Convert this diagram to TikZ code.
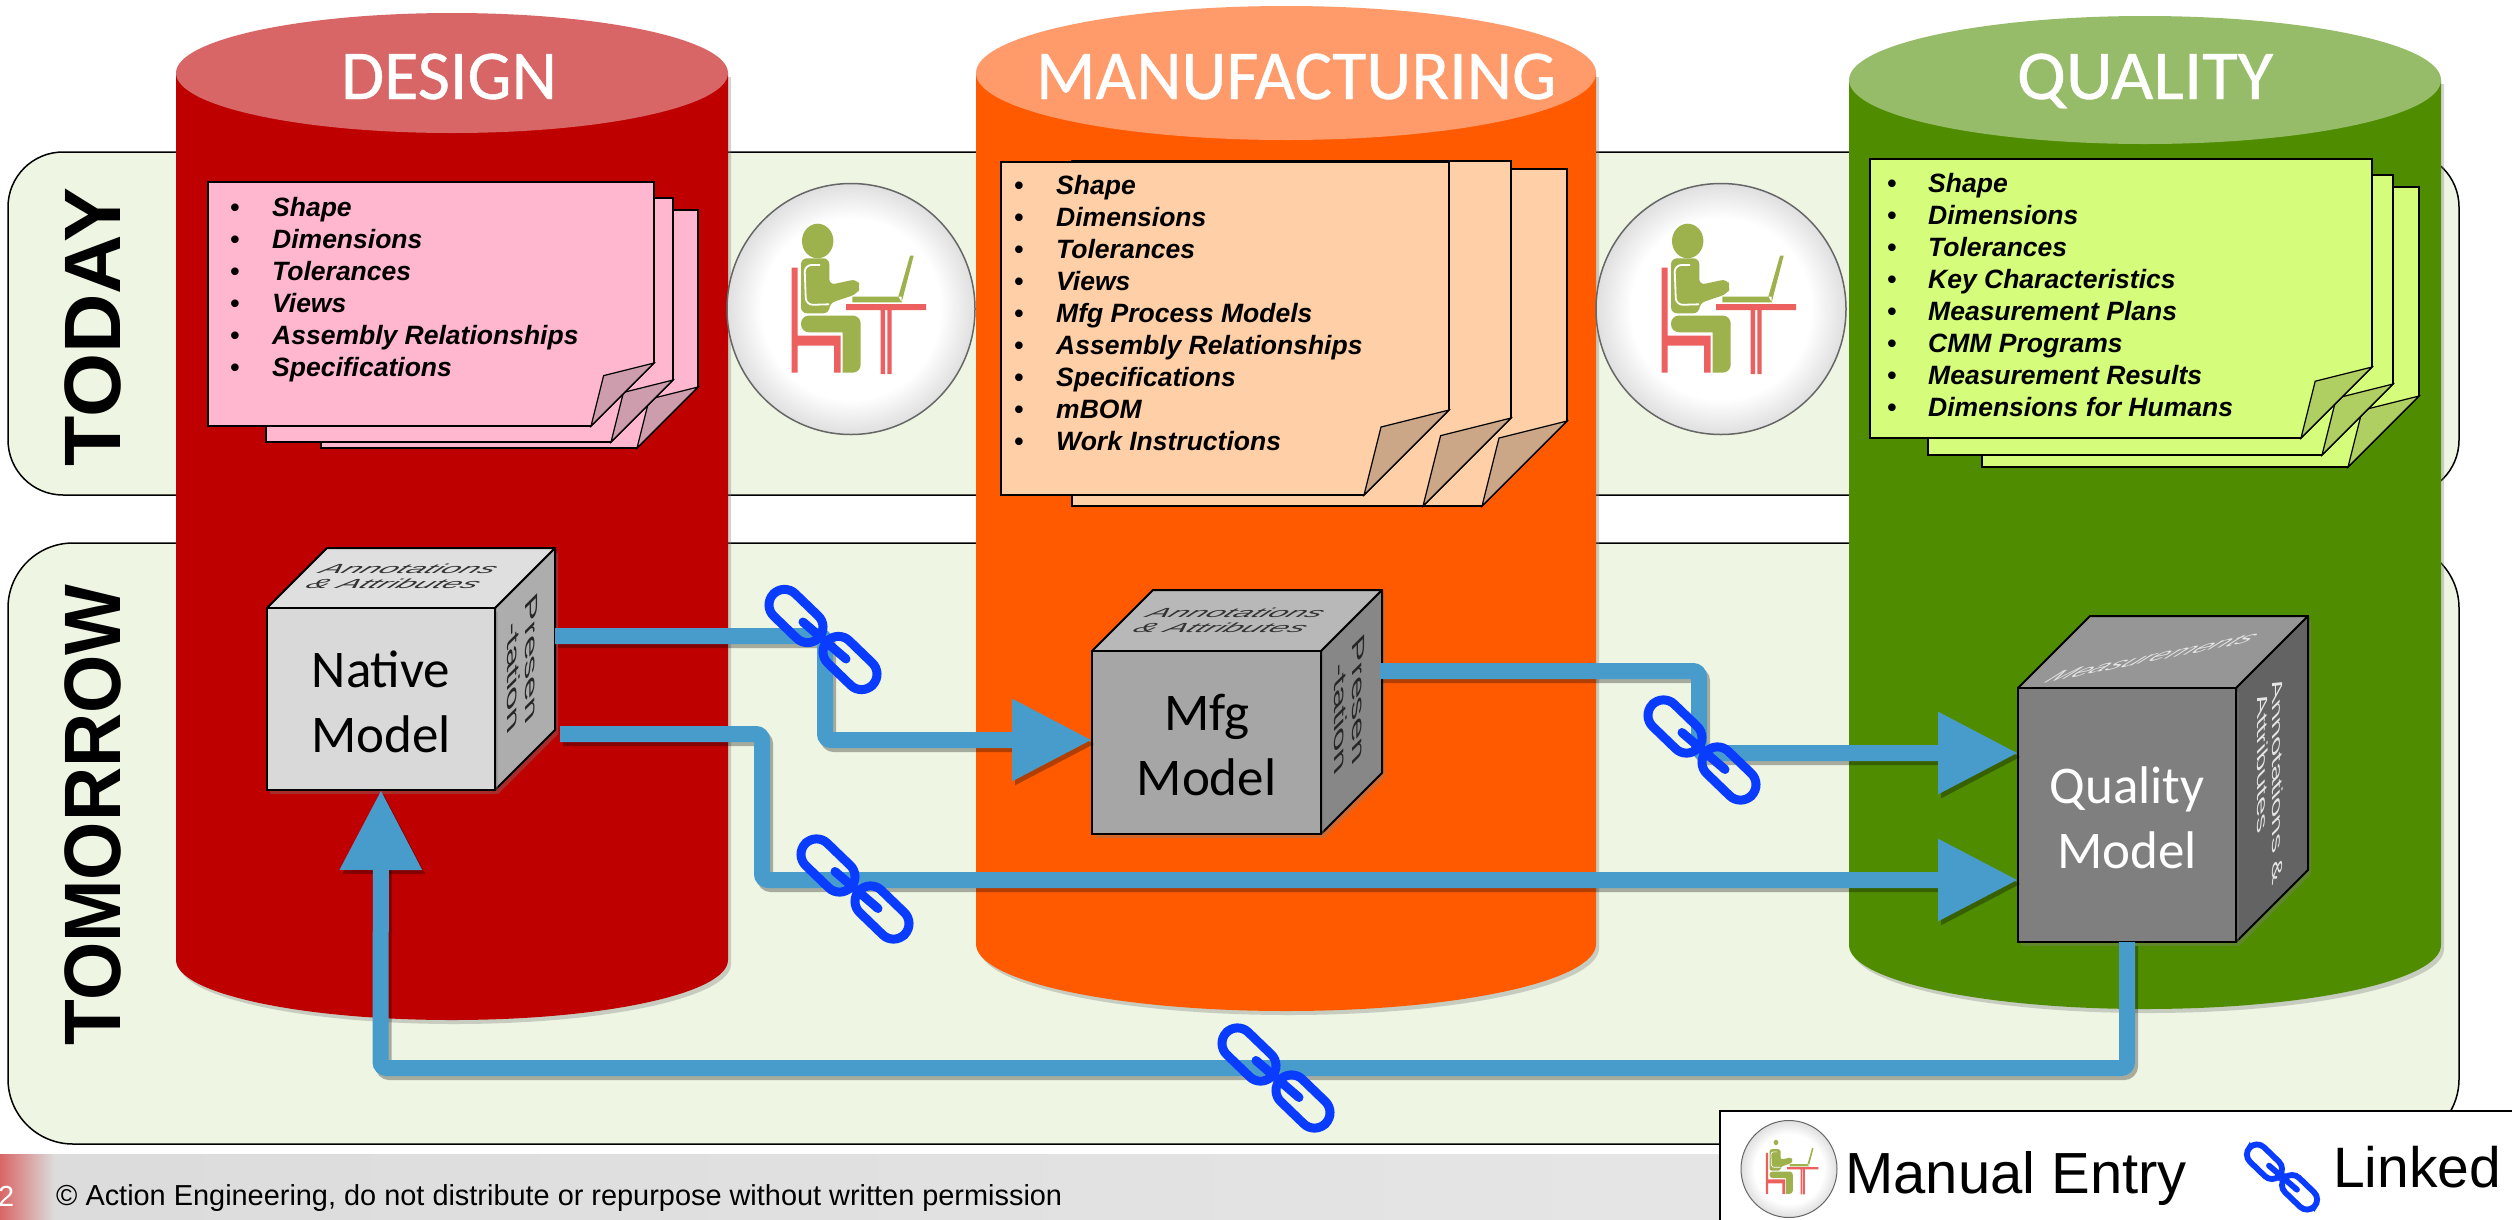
\documentclass[tikz,border=0pt]{standalone}
\usepackage{fontspec}
\setmainfont{Liberation Sans}
\newfontfamily\calfont{Carlito}
\newfontfamily\titlefont[FakeBold=0.6]{Carlito}
\usetikzlibrary{arrows.meta,shadows}
\definecolor{designbody}{HTML}{BF0000}
\definecolor{designlid}{HTML}{D96666}
\definecolor{designpaper}{HTML}{FFB6CF}
\definecolor{designflap}{HTML}{CE9DAD}
\definecolor{mfgbody}{HTML}{FF5A00}
\definecolor{mfglid}{HTML}{FF9B6B}
\definecolor{mfgpaper}{HTML}{FFCFA8}
\definecolor{mfgflap}{HTML}{CBA788}
\definecolor{qualbody}{HTML}{4F8C00}
\definecolor{quallid}{HTML}{97BC69}
\definecolor{qualpaper}{HTML}{D5FC7A}
\definecolor{qualflap}{HTML}{AFCF62}
\definecolor{bandgreen}{HTML}{EEF5E3}
\definecolor{flowblue}{HTML}{489CCC}
\definecolor{linkblue}{HTML}{0A3CFF}
\definecolor{personolive}{HTML}{9DB24D}
\definecolor{personred}{HTML}{EC6060}
\definecolor{nativefront}{HTML}{D9D9D9}
\definecolor{nativetop}{HTML}{DFDFDF}
\definecolor{nativeside}{HTML}{ADADAD}
\definecolor{mfgfront}{HTML}{A6A6A6}
\definecolor{mfgtop}{HTML}{B8B8B8}
\definecolor{mfgside}{HTML}{878787}
\definecolor{qualfront}{HTML}{7F7F7F}
\definecolor{qualtop}{HTML}{969696}
\definecolor{qualside}{HTML}{636363}
\pgfdeclareradialshading{bubble}{\pgfpoint{0bp}{0bp}}{color(0bp)=(white); color(18bp)=(white); color(25bp)=(gray!25); color(50bp)=(gray!25)}
\tikzset{
	softshadow/.style={drop shadow={shadow xshift=3pt,shadow yshift=-4pt,opacity=.35}},
	band/.style={draw=black,line width=1.5pt,fill=bandgreen},
	bandlabel/.style={anchor=base,rotate=90,inner sep=0,font=\bfseries\fontsize{80}{80}\selectfont},
	silotitle/.style={anchor=base,inner sep=0,text=white,font=\titlefont\fontsize{70}{70}\selectfont},
	bubbleedge/.style={shading=bubble,draw=black!60},
	paper/.style={draw=black,line width=1.6pt,line join=miter},
	noteitem/.style={anchor=base west,inner sep=0,font=\bfseries\itshape\fontsize{26.5}{32}\selectfont},
	notebullet/.style={anchor=base,inner sep=0,font=\bfseries\fontsize{26.5}{32}\selectfont},
	cubeface/.style={draw=black,line width=2pt,inner sep=0,outer sep=0},
	cubeword/.style={inner sep=0,align=center,font=\calfont\fontsize{53}{65}\selectfont},
	cubeedge/.style={draw=black,line width=2pt,line join=round},
	topword/.style={inner sep=0,align=center,text=black!80,font=\itshape\fontsize{33}{37}\selectfont,cm={1,0,.42,.4,(0,0)}},
	sideword/.style={inner sep=0,align=center,text=black!85,font=\fontsize{39}{40}\selectfont,cm={0,-1,.45,.45,(0,0)}},
	flow/.style={draw=flowblue,line width=16pt,rounded corners=6pt,-{Triangle[length=80pt,width=78pt]}},
	flowshadow/.style={flow,draw=black,opacity=.3,transform canvas={shift={(3pt,-4pt)}}},
	legendtext/.style={anchor=base west,inner sep=0},
}
\newcommand\silo[6]{%
\path[softshadow,fill=#6body] ({#1-#2},#3) -- ({#1-#2},#4) arc[start angle=180,end angle=360,x radius=#2pt,y radius=#5pt] -- ({#1+#2},#3) -- cycle;
\fill[#6lid] (#1,#3) ellipse[x radius=#2pt,y radius=#5pt];
}
\newcommand\stickynote[6]{%
\draw[paper,fill=#6paper] (#1,#2) -- (#3,#2) -- (#3,{#4-#5}) -- ({#3-#5},#4) -- (#1,#4) -- cycle;
\draw[paper,line width=1.2pt,fill=#6flap] (#3,{#4-#5}) -- ({#3-.8*#5},{#4-.8*#5}) -- ({#3-#5},#4) -- cycle;
}
\newcommand\noteitems[5]{%
\foreach \entry [count=\i from 0] in {#5} {
	\node[notebullet] (#1b\i) at (#2,{#4+32*\i}) {\textbullet};
	\node[noteitem] (#1i\i) at (#3,{#4+32*\i}) {\entry};
}
}
\newcommand\person[3]{%
\begin{scope}[shift={(#1,#2)},scale=#3]
	\fill[personred] (-59.3,-41.3) rectangle (-53.3,63.7) (-59.3,26.7) rectangle (-10.3,36.7) (-17,36.7) rectangle (-10.3,63.7);
	\fill[personred] (-5,-5) rectangle (75,1) (29.7,1) rectangle (34,65) (36.3,1) rectangle (40.7,65);
	\fill[personolive] (-33.3,-68) ellipse[x radius=#3*15.7pt,y radius=#3*17.3pt];
	\fill[personolive,rounded corners=#3*6pt] (-50,4.3) -- (-50,-50.7) -- (-21.7,-50.7) -- (-21.7,-24) -- (6,-30) -- (9.5,-22) -- (6,-15) -- (-21.7,-5.7) -- (-21.7,4.3) -- cycle;
	\fill[personolive,rounded corners=#3*8pt] (-50,6.5) -- (9.7,6.5) -- (9.7,63.7) [sharp corners] -- (-8.3,63.7) -- (-8.3,23.3) [rounded corners=#3*8pt] -- (-50,23.3) -- cycle;
	\draw[white,line width=#3*1.8pt,rounded corners=#3*7pt] (-31,-44) -- (-46.5,-44) -- (-45,-4) -- (-22,-4.7);
	\fill[personolive] (1.3,-12.3) rectangle (50.7,-6.7) (47.3,-12.3) -- (59,-53.3) -- (62.7,-53.3) -- (50.7,-6.7) -- cycle;
\end{scope}
}
\newcommand\chainlink[3]{%
\begin{scope}[shift={(#1,#2)},scale=#3,linkline/.style={draw=linkblue,line width=#3*9pt,line cap=round,rounded corners=#3*15.5pt}]
	\begin{scope}[shift={(-27,-23.5)},rotate=-44]
		\draw[linkline] (-31.5,-15.5) rectangle (31.5,15.5);
	\end{scope}
	\begin{scope}[shift={(27,23.5)},rotate=-44]
		\draw[linkline] (-31.5,-15.5) rectangle (31.5,15.5);
	\end{scope}
	\draw[linkline] (-20,-17.5) -- (23,19.5);
\end{scope}
}
\newcommand\modelcube[8]{%
\draw[cubeedge,softshadow,fill=#1side] ({#2+#4/2},{#3-#5/2}) -- ++(#6,-#6) -- ++(0,#5) -- ({#2+#4/2},{#3+#5/2}) -- cycle;
\draw[cubeedge,fill=#1top] ({#2-#4/2},{#3-#5/2}) -- ++(#6,-#6) -- ++(#4,0) -- ({#2+#4/2},{#3-#5/2}) -- cycle;
\node[cubeface,softshadow,fill=#1front,minimum width=#4pt,minimum height=#5pt] (#1) at (#2,#3) {};
\node[cubeword,text=#7] (#1label) at (#2,{#3+3}) {#8};
}
\newcommand\flowline[1]{%
\draw[flowshadow] #1;
\draw[flow] #1;
}
\begin{document}
\begin{tikzpicture}[x=1pt,y=-1pt]
	\useasboundingbox (0,0) rectangle (2512,1219);

	%% the two rows
	\draw[band,rounded corners=55pt] (8,152) rectangle (2459,495);
	\draw[band,rounded corners=65pt] (8,543) rectangle (2459,1144);
	\node[bandlabel] (today) at (120,327) {\scalebox{1.03}[1]{TODAY}};
	\node[bandlabel] (tomorrow) at (120,815) {\scalebox{.937}[1]{TOMORROW}};

	%% the three columns
	\silo{452}{276}{73}{960}{60}{design}
	\silo{1286}{310}{73}{944}{67}{mfg}
	\silo{2145}{296}{80}{945}{64}{qual}
	\node[silotitle] (designtitle) at (449,99) {DESIGN};
	\node[silotitle] (mfgtitle) at (1296,99) {MANUFACTURING};
	\node[silotitle] (qualtitle) at (2145,99) {\scalebox{1.04}[1]{QUALITY}};

	%% manual entry between the columns
	\shade[bubbleedge,line width=1.5pt] (851,309) ellipse[x radius=124pt,y radius=125.5pt];
	\person{851}{309}{1}
	\shade[bubbleedge,line width=1.5pt] (1721,309) ellipse[x radius=125pt,y radius=125.5pt];
	\person{1721}{309}{1}

	%% sheets
	\stickynote{321}{210}{698}{448}{61}{design}
	\stickynote{266}{198}{673}{442}{62}{design}
	\stickynote{208}{182}{654}{426}{63}{design}
	\noteitems{dn}{235}{272}{216}{Shape,Dimensions,Tolerances,Views,Assembly Relationships,Specifications}

	\stickynote{1137}{169}{1567}{506}{85}{mfg}
	\stickynote{1072}{161}{1511}{506}{88}{mfg}
	\stickynote{1001}{162}{1449}{495}{85}{mfg}
	\noteitems{mn}{1019}{1056}{194}{Shape,Dimensions,Tolerances,Views,Mfg Process Models,Assembly Relationships,Specifications,mBOM,Work Instructions}

	\stickynote{1982}{187}{2419}{467}{71}{qual}
	\stickynote{1928}{175}{2393}{455}{71}{qual}
	\stickynote{1870}{159}{2372}{438}{71}{qual}
	\noteitems{qn}{1892}{1928}{192}{Shape,Dimensions,Tolerances,Key Characteristics,Measurement Plans,CMM Programs,Measurement Results,Dimensions for Humans}

	%% models
	\modelcube{native}{381}{699}{228}{182}{60}{black}{Native\\Model}
	\node[topword] (nativetopword) at (402,576) {Annotations\\\& Attributes};
	\node[sideword] (nativesideword) at (522,667) {Presen\\-tation};

	\modelcube{mfg}{1206.5}{742.5}{229}{183}{61}{black}{Mfg\\Model}
	\node[topword] (mfgtopword) at (1229,620) {Annotations\\\& Attributes};
	\node[sideword] (mfgsideword) at (1349,708) {Presen\\-tation};

	\modelcube{qual}{2127}{815}{218}{254}{72}{white}{Quality\\Model}
	\node[inner sep=0,text=white!90!black,font=\itshape\fontsize{31}{31}\selectfont,cm={1,.2,.75,.55,(0,0)}] (qualtopword) at (2153,657) {Measurements};
	\node[inner sep=0,align=left,text=white!90!black,font=\fontsize{32.5}{33}\selectfont,cm={0,-1,.45,.45,(0,0)}] (qualsideword) at (2270,787) {Annotations \&\\Attributes};

	%% connectors
	\coordinate (nativeoutone) at (555,636);
	\coordinate (nativeouttwo) at (560,734);
	\coordinate (mfgout) at (1380,671);
	\coordinate (mfgin) at (1092,740);
	\coordinate (qualinone) at (2018,753);
	\coordinate (qualintwo) at (2018,880);
	\coordinate (bendone) at (825,740);
	\coordinate (bendtwo) at (762,880);
	\coordinate (bendthree) at (1699,753);
	\coordinate (bendfour) at (2127,1068);
	\coordinate (bendfive) at (380.5,1068);
	\flowline{(nativeoutone) -| (bendone) -- (mfgin)}
	\flowline{(nativeouttwo) -| (bendtwo) -- (qualintwo)}
	\flowline{(mfgout) -| (bendthree) -- (qualinone)}
	\flowline{(qual.south) -- (bendfour) -- (bendfive) -- (native.south)}

	\chainlink{823}{639.5}{1}
	\chainlink{855}{889}{1}
	\chainlink{1702}{750}{1}
	\chainlink{1276}{1078}{1}

	%% footer
	\shade[left color=gray!28,right color=gray!20] (0,1154) rectangle (1720,1219);
	\shade[left color=designlid,right color=gray!28] (0,1154) rectangle (54,1219);
	\node[legendtext,text=white,font=\fontsize{29}{29}\selectfont] (pagenumber) at (-2,1206) {2};
	\node[legendtext,font=\fontsize{28.9}{29}\selectfont] (footertext) at (56,1205) {© Action Engineering, do not distribute or repurpose without written permission};

	%% legend
	\draw[fill=white,line width=2pt] (1720,1111) rectangle (2520,1230);
	\shade[bubbleedge,line width=1pt] (1789,1169) ellipse[x radius=48pt,y radius=48.5pt];
	\person{1789}{1169}{.39}
	\node[legendtext,font=\fontsize{58}{58}\selectfont] (manualentry) at (1845,1193) {Manual Entry};
	\chainlink{2282}{1177}{.65}
	\node[legendtext,font=\fontsize{57}{57}\selectfont] (linked) at (2333,1187) {Linked};
\end{tikzpicture}
\end{document}
